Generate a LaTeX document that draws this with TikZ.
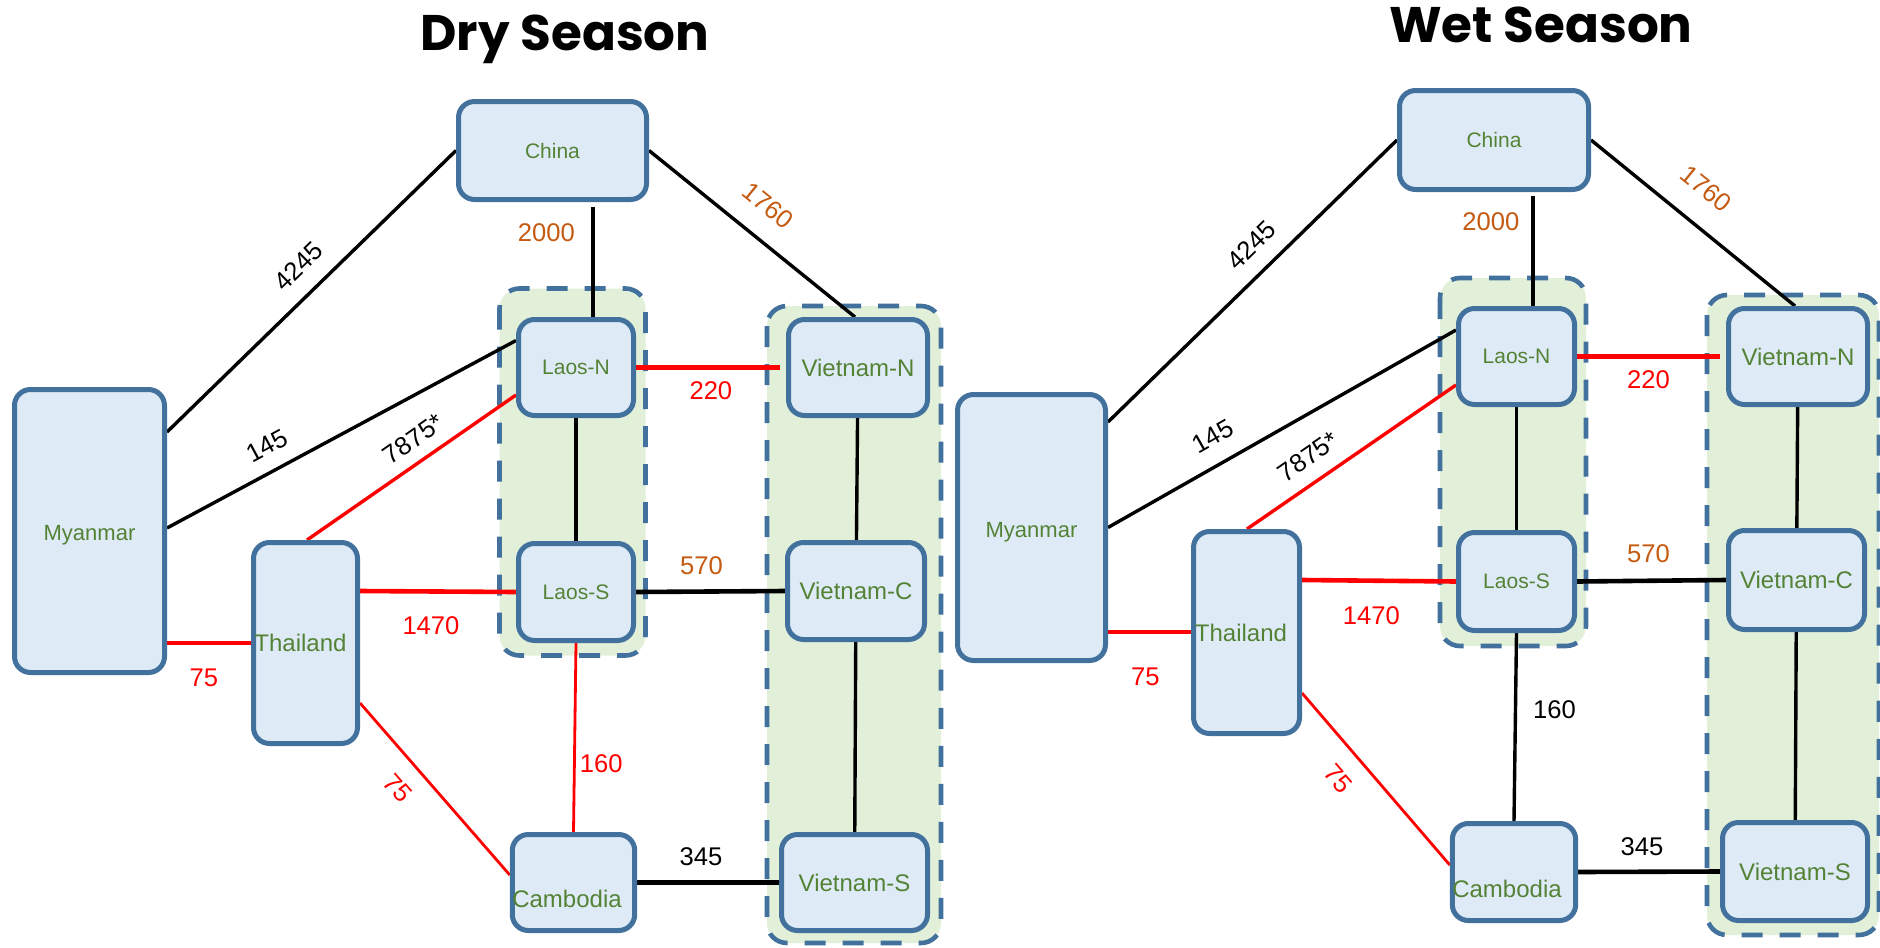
\documentclass[tikz,border=0pt]{standalone}
\usepackage{fontspec}
\setmainfont{Liberation Sans}
\newfontfamily\titlefont{Poppins}
\usetikzlibrary{calc}

\definecolor{nodeblue}{HTML}{41719C}
\definecolor{nodefill}{HTML}{DEEBF7}
\definecolor{grpfill}{HTML}{E2F0D9}
\definecolor{txtgreen}{HTML}{548235}
\definecolor{orangec}{HTML}{C55A11}
\definecolor{redc}{HTML}{FF0000}

\pgfdeclarelayer{bg}
\pgfdeclarelayer{edges}
\pgfsetlayers{bg,edges,main}

\tikzset{
  country/.style={draw=nodeblue, fill=nodefill, line width=2.5pt,
    rounded corners=8pt, inner sep=0pt, text=txtgreen},
  small/.style={font=\fontsize{10.5}{12}\selectfont},
  mid/.style={font=\fontsize{11}{13}\selectfont},
  large/.style={font=\fontsize{12}{14}\selectfont},
  group/.style={draw=nodeblue, fill=grpfill, line width=2.3pt,
    rounded corners=10pt, dash pattern=on 10.5pt off 8.5pt},
  blk/.style={draw=black, line width=1.7pt},
  blkthick/.style={draw=black, line width=2.3pt},
  redl/.style={draw=redc, line width=1.7pt},
  redthick/.style={draw=redc, line width=2.3pt},
  redthin/.style={draw=redc, line width=1.4pt},
  lab/.style={font=\fontsize{12.8}{14}\selectfont, inner sep=1pt},
  heading/.style={font=\titlefont\bfseries\fontsize{25}{30}\selectfont, anchor=base, inner sep=0pt}
}

\begin{document}
\begin{tikzpicture}[x=0.5pt, y=-0.5pt]
\useasboundingbox (0,0) rectangle (1880,948);
\begin{pgfonlayer}{bg}
  \fill[white] (0,0) rectangle (1880,948);
  % dashed country groups
  \draw[group] (499.5,288.5) rectangle (645.5,655.5);
  \draw[group] (767,306) rectangle (941,943);
  \draw[group] (1440,278) rectangle (1586,646);
  \draw[group] (1707,295) rectangle (1879,935);
\end{pgfonlayer}

% ---------------- headings ----------------
\node[heading] (drytitle) at (565,50) {Dry Season};
\node[heading] (wettitle) at (1541,42) {Wet Season};

% ---------------- dry season ----------------
\node[country, small, minimum width=94pt, minimum height=49pt] (dchina) at (552.5,150.5) {China};
\node[country, mid, minimum width=75pt, minimum height=141.5pt] (dmyan) at (89.5,531) {\raisebox{-4.6pt}[0pt][0pt]{Myanmar}};
\node[country, large, minimum width=52pt, minimum height=100.5pt] (dthai) at (305.5,643) {Thailand\kern5pt};
\node[country, small, minimum width=57.5pt, minimum height=48pt] (dlaosn) at (576,367.5) {Laos-N};
\node[country, small, minimum width=57.5pt, minimum height=48.5pt] (dlaoss) at (576,592) {Laos-S};
\node[country, large, minimum width=60pt, minimum height=48pt] (dcamb) at (573.5,882.5) {\raisebox{-12.4pt}[0pt][0pt]{Cambodia}\kern6.5pt};
\node[country, large, minimum width=69.5pt, minimum height=48pt] (dvietn) at (858,367.5) {Vietnam-N};
\node[country, large, minimum width=68.5pt, minimum height=48.5pt] (dvietc) at (856,591) {Vietnam-C};
\node[country, large, minimum width=73pt, minimum height=48pt] (dviets) at (854.5,882.5) {Vietnam-S};

\begin{pgfonlayer}{edges}
  \draw[blk] ($(dmyan.east)+(0,-99)$) -- (dchina.west)
    node[lab, sloped, pos=0.52, above=7pt] (dl4245) {4245};
  \draw[blk] ($(dchina.south)+(40.5,5)$) -- ($(dlaosn.north)+(17,0)$)
    node[lab, pos=0.23, left=7.2pt, text=orangec] (dl2000) {2000};
  \draw[blk] (dchina.east) -- ($(dvietn.north)+(-3,0)$)
    node[lab, sloped, pos=0.48, above=9.5pt, text=orangec] (dl1760) {1760};
  \draw[blk] ($(dmyan.east)+(0,-3)$) -- ($(dlaosn.west)+(0,-27)$)
    node[lab, sloped, pos=0.32, above=6.3pt] (dl145) {145};
  \draw[redl] ($(dthai.north)+(1.5,0)$) -- ($(dlaosn.west)+(0,27.5)$)
    node[lab, sloped, pos=0.57, above=4.8pt] (dl7875) {7875*};
  \draw[blk] (dlaosn) -- (dlaoss);
  \draw[redthick] (dlaosn.east) -- ($(dvietn.west)+(-6,0)$)
    node[lab, pos=0.52, below=5pt, text=redc] (dl220) {220};
  \draw[blk] (dvietn) -- (dvietc);
  \draw[redthick] ($(dthai.east)+(0,-52)$) -- (dlaoss.west)
    node[lab, pos=0.455, below=10.5pt, text=redc] (dl1470) {1470};
  \draw[blkthick] (dlaoss.east) -- (dvietc.west)
    node[lab, pos=0.44, above=6.5pt, text=orangec] (dl570) {570};
  \draw[redthick] ($(dmyan.east)+(0,112)$) -- (dthai.west)
    node[lab, pos=0.44, below=11pt, text=redc] (dl75a) {75};
  \draw[redthin] ($(dthai.east)+(0,60)$) -- ($(dcamb.west)+(0,-7.5)$)
    node[lab, sloped, pos=0.39, below=7.5pt, text=redc] (dl75b) {75};
  \draw[redthin] (dlaoss.south) -- (dcamb.north)
    node[lab, pos=0.64, right=1pt, text=redc] (dl160) {160};
  \draw[blkthick] (dcamb.east) -- (dviets.west)
    node[lab, pos=0.45, above=6pt] (dl345) {345};
  \draw[blk] (dvietc) -- (dviets);
\end{pgfonlayer}

% ---------------- wet season ----------------
\node[country, small, minimum width=94.5pt, minimum height=49.5pt] (wchina) at (1494,140) {China};
\node[country, mid, minimum width=74pt, minimum height=133pt] (wmyan) at (1031.5,527.5) {\raisebox{-5.2pt}[0pt][0pt]{Myanmar}};
\node[country, large, minimum width=53pt, minimum height=101pt] (wthai) at (1246.5,632.5) {Thailand\kern5.5pt};
\node[country, small, minimum width=58pt, minimum height=48pt] (wlaosn) at (1516.5,356.5) {Laos-N};
\node[country, small, minimum width=58pt, minimum height=49pt] (wlaoss) at (1516.5,581.5) {Laos-S};
\node[country, large, minimum width=60.5pt, minimum height=48.5pt] (wcamb) at (1514,872) {\raisebox{-12.8pt}[0pt][0pt]{Cambodia}\kern7pt};
\node[country, large, minimum width=69.5pt, minimum height=48pt] (wvietn) at (1798,356.5) {Vietnam-N};
\node[country, large, minimum width=68pt, minimum height=49.5pt] (wvietc) at (1796.5,580) {Vietnam-C};
\node[country, large, minimum width=72.5pt, minimum height=49pt] (wviets) at (1795,871.5) {Vietnam-S};

\begin{pgfonlayer}{edges}
  \draw[blk] ($(wmyan.east)+(0,-105.5)$) -- (wchina.west)
    node[lab, sloped, pos=0.56, above=6.8pt] (wl4245) {4245};
  \draw[blk] ($(wchina.south)+(39,4)$) -- ($(wlaosn.north)+(16.5,0)$)
    node[lab, pos=0.23, left=5pt, text=orangec] (wl2000) {2000};
  \draw[blk] (wchina.east) -- ($(wvietn.north)+(-3,0)$)
    node[lab, sloped, pos=0.456, above=11pt, text=orangec] (wl1760) {1760};
  \draw[blk] (wmyan.east) -- ($(wlaosn.west)+(0,-26.5)$)
    node[lab, sloped, pos=0.34, above=7.5pt] (wl145) {145};
  \draw[redl] ($(wthai.north)+(0.5,0)$) -- ($(wlaosn.west)+(0,28.5)$)
    node[lab, sloped, pos=0.36, above=6pt] (wl7875) {7875*};
  \draw[blk] (wlaosn) -- (wlaoss);
  \draw[redthick] (wlaosn.east) -- ($(wvietn.west)+(-6,0)$)
    node[lab, pos=0.5, below=5pt, text=redc] (wl220) {220};
  \draw[blk] (wvietn) -- (wvietc);
  \draw[redthick] ($(wthai.east)+(0,-52.5)$) -- (wlaoss.west)
    node[lab, pos=0.45, below=11pt, text=redc] (wl1470) {1470};
  \draw[blkthick] (wlaoss.east) -- (wvietc.west)
    node[lab, pos=0.48, above=7pt, text=orangec] (wl570) {570};
  \draw[redthick] ($(wmyan.east)+(0,104.5)$) -- ($(wthai.west)+(0,-0.5)$)
    node[lab, pos=0.45, below=16pt, text=redc] (wl75a) {75};
  \draw[redthin] ($(wthai.east)+(0,60.5)$) -- ($(wcamb.west)+(0,-7)$)
    node[lab, sloped, pos=0.39, below=8pt, text=redc] (wl75b) {75};
  \draw[blk] (wlaoss.south) -- (wcamb.north)
    node[lab, pos=0.41, right=7pt] (wl160) {160};
  \draw[blkthick] (wcamb.east) -- (wviets.west)
    node[lab, pos=0.45, above=6pt] (wl345) {345};
  \draw[blk] (wvietc) -- (wviets);
\end{pgfonlayer}
\end{tikzpicture}
\end{document}
